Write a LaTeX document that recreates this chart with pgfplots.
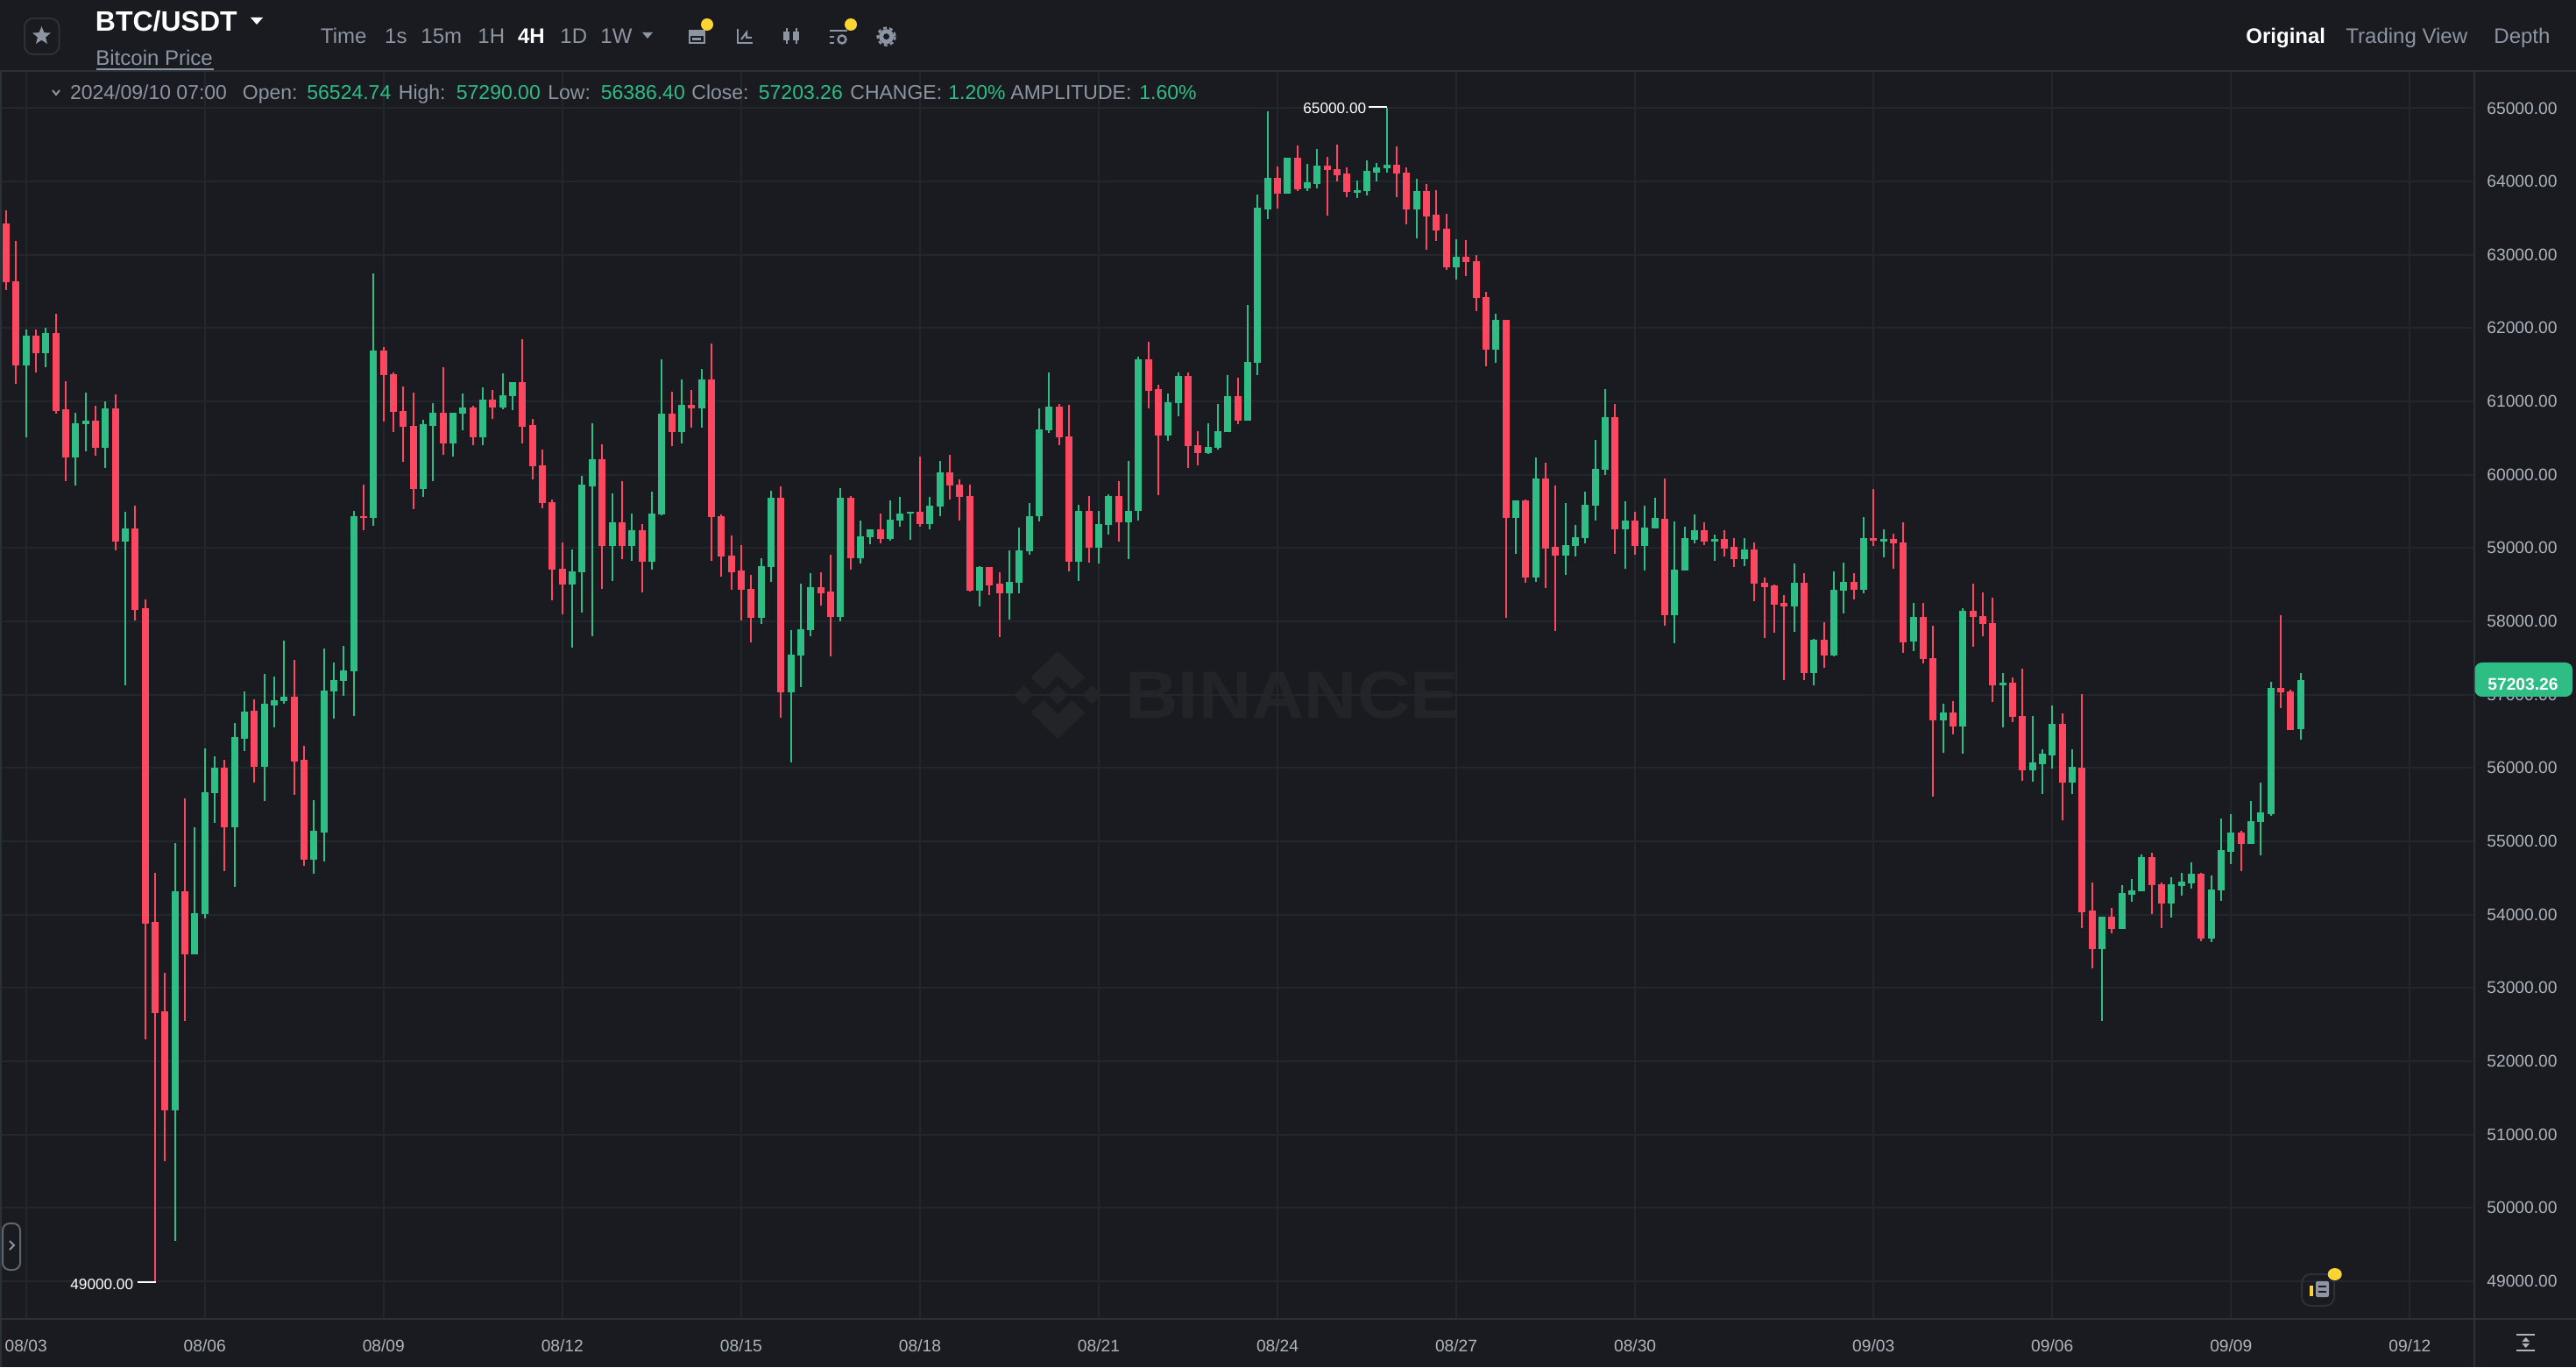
\documentclass[border=0pt]{standalone}
\usepackage{fontspec}
\setmainfont{Liberation Sans}
\usepackage{pgfplots}
\usepackage{pgfplotstable}
\pgfplotsset{compat=1.18}
\usetikzlibrary{shapes.geometric}
\definecolor{bg}{HTML}{191B20}
\definecolor{gridc}{HTML}{22272B}
\definecolor{linec}{HTML}{2B3139}
\definecolor{gup}{HTML}{2EBD85}
\definecolor{rdn}{HTML}{FB4760}
\definecolor{txtg}{HTML}{8D95A2}
\definecolor{tick}{HTML}{AEB4BE}
\definecolor{wm}{HTML}{222428}
\definecolor{yel}{HTML}{FCD535}
% i high top bottom low : red candles (open = top, close = bottom)
\pgfplotstableread{
i high top bot low
0 63606 63425 62622 62519
1 63182 62643 61493 61234
3 61980 61902 61659 61400
5 62197 61928 60871 60835
6 61281 60887 60239 59918
9 60939 60742 60369 60260
11 61099 60908 59084 58965
13 59582 59266 58152 58007
14 58302 58173 53874 52295
15 54572 53896 52657 49000
16 53209 52679 51326 50634
18 55589 54318 53458 52554
22 56109 56001 55195 54594
25 56935 56779 56011 55795
29 57479 56976 56090 55638
30 56303 56106 54746 54670
36 59861 59437 59405 59240
38 61742 61690 61353 60721
39 61389 61369 60856 60586
40 61208 60871 60649 60172
41 61115 60664 59799 59535
44 61464 60842 60431 60266
47 60943 60920 60509 60399
49 61153 61021 60916 60760
52 61853 61263 60655 60426
53 60756 60673 60120 59941
54 60344 60133 59612 59543
55 59667 59626 58702 58286
56 59081 58720 58496 58098
60 60412 60211 59031 58446
62 59918 59351 59031 58848
64 59324 59241 58816 58391
67 61131 60829 60577 60385
69 61158 60957 60906 60637
71 61794 61300 59424 58821
72 59456 59438 58880 58610
73 59177 58894 58670 58432
74 59040 58688 58432 58006
75 58629 58446 58052 57714
78 59841 59690 57037 56680
82 58674 58464 58386 58217
83 58908 58404 58061 57526
85 59708 59690 58862 58702
88 59470 59251 59127 59059
92 60252 59493 59324 59292
95 60275 60028 59854 59667
96 59937 59868 59699 59379
97 59864 59708 58418 58409
99 58743 58738 58487 58359
100 58665 58510 58386 57787
106 60970 60925 60509 60403
107 60948 60522 58816 58679
109 59713 59511 59004 58802
112 59918 59713 59351 59086
115 61812 61574 61144 60902
116 61222 61163 60536 59726
119 61391 61341 60394 60097
120 60591 60408 60298 60129
124 61327 61071 60733 60691
128 64203 64047 63830 63628
130 64493 64327 63897 63871
133 64332 64218 64151 63529
134 64503 64166 64089 64001
135 64192 64109 63861 63783
140 64482 64228 64109 63788
141 64197 64125 63617 63420
143 63959 63866 63524 63063
144 63876 63545 63332 63192
145 63555 63353 62825 62799
147 63198 62975 62897 62706
148 63001 62908 62410 62234
149 62493 62426 61701 61473
151 62115 62110 59411 58044
153 59660 59644 58598 58525
155 60162 59950 58997 58448
156 59851 59012 58893 57867
162 60965 60789 59256 58924
164 59489 59370 59033 58909
167 59944 59402 58084 57944
171 59346 59239 59087 59040
173 59239 59127 58996 58888
174 59135 59012 58844 58741
176 59076 58976 58518 58275
177 58593 58530 58470 57777
178 58498 58486 58231 57840
179 58354 58247 58207 57199
181 58653 58522 57291 57203
183 57984 57749 57538 57362
186 58661 58542 58430 58295
188 59809 59139 59099 59024
190 59191 59119 59064 58721
191 59346 59080 57717 57570
193 58249 58054 57481 57421
194 57942 57497 56649 55610
196 56908 56756 56569 56458
198 58516 58141 58054 57648
199 58392 58066 57966 57795
200 58328 57978 57131 56896
202 57234 57166 56693 56629
203 57349 56709 55972 55821
207 56744 56597 55801 55284
209 57004 56008 54036 53813
210 54435 54052 53526 53271
212 54092 53973 53809 53745
216 54849 54789 54399 54004
217 54435 54411 54152 53817
221 54566 54562 53678 53642
225 55144 55124 54965 54594
229 58080 57096 57032 56813
230 57064 57048 56514 56514
}\redT
% i high top bottom low : green candles (open = bottom, close = top)
\pgfplotstableread{
i high top bot low
2 61975 61902 61493 60509
4 62001 61928 61659 61462
7 60845 60706 60239 59851
8 61115 60742 60690 60322
10 60996 60908 60369 60089
12 59499 59266 59084 57131
17 54973 54318 51326 49546
19 55195 54021 53458 53458
20 56266 55671 54004 53950
21 56158 56001 55654 55249
23 56608 56417 55195 54372
24 57043 56774 56401 56235
26 57287 56872 56011 55552
27 57251 56929 56857 56551
28 57737 56976 56909 56872
31 55557 55140 54746 54551
32 57634 57059 55119 54724
33 57432 57199 57049 56676
34 57670 57328 57188 56986
35 59504 59437 57323 56707
37 62741 61690 59411 59302
42 60747 60685 59799 59701
43 60980 60842 60669 59909
45 60847 60847 60431 60243
46 61112 60920 60838 60600
48 61190 61021 60509 60399
50 61378 61089 60916 60893
51 61263 61263 61071 60884
57 58976 58679 58496 57645
58 59983 59859 58665 58125
59 60705 60211 59841 57801
61 59740 59351 59031 58551
63 59470 59241 59031 58825
65 59772 59475 58816 58706
66 61574 60829 59456 59447
68 61295 60957 60577 60426
70 61442 61300 60906 60641
76 58866 58748 58052 57965
77 59777 59690 58738 58533
79 57878 57545 57037 56076
80 58514 57892 57531 57101
81 58661 58464 57878 57801
84 59813 59690 58061 57997
86 59379 59159 58862 58784
87 59255 59251 59145 59054
89 59649 59392 59127 59100
90 59694 59475 59379 59292
91 59498 59493 59466 59113
93 59694 59575 59324 59260
94 60193 60028 59562 59434
98 58757 58743 58418 58208
101 58967 58542 58386 58029
102 59283 58972 58528 58382
103 59612 59438 58953 58912
104 60906 60623 59429 59360
105 61396 60925 60605 60573
108 59594 59511 58816 58551
110 59511 59324 59004 58784
111 59736 59713 59310 59187
113 60193 59511 59351 58853
114 61615 61574 59502 59374
117 61108 60984 60536 60463
118 61396 61341 60975 60801
121 60701 60376 60294 60284
122 60961 60595 60367 60339
123 61359 61071 60582 60577
125 62315 61538 60733 60733
126 63819 63638 61530 61354
127 64954 64047 63622 63488
129 64327 64327 63830 63830
131 64244 63985 63902 63871
132 64446 64218 63969 63907
136 64011 63881 63845 63773
137 64291 64140 63866 63804
138 64254 64192 64125 64001
139 65000 64228 64177 64125
142 64037 63866 63617 63224
146 63213 62975 62825 62659
150 62193 62110 61701 61524
152 59649 59644 59411 58924
154 60235 59950 58598 58541
157 59608 59043 58893 58629
158 59318 59152 59028 58883
159 59763 59587 59137 59059
160 60473 60079 59577 59380
161 61167 60789 60064 59991
163 59639 59370 59256 58722
165 59582 59282 59033 58691
166 59680 59411 59271 59271
168 59362 58705 58084 57705
169 59295 59131 58689 58689
170 59458 59239 59115 59068
172 59183 59123 59087 58829
175 59139 58976 58844 58757
180 58785 58522 58207 57860
182 57765 57749 57291 57123
184 58677 58426 57538 57522
185 58805 58542 58414 58103
187 59422 59139 58430 58386
189 59255 59119 59083 58872
192 58249 58054 57720 57592
195 56880 56756 56649 56207
197 58177 58141 56569 56191
201 57290 57166 57131 56549
204 56709 56072 55972 55809
205 56259 56191 56056 55650
206 56856 56597 56175 55992
208 56259 56012 55801 55642
211 53973 53973 53526 52554
213 54403 54291 53809 53809
214 54491 54335 54275 54172
215 54825 54789 54319 54319
218 54506 54411 54152 53965
219 54570 54447 54395 54263
220 54718 54562 54427 54359
222 54530 54343 53678 53630
223 55315 54877 54327 54184
224 55367 55124 54861 54690
226 55554 55275 54965 54961
227 55797 55395 55259 54805
228 57176 57096 55375 55351
231 57290 57203 56525 56386
}\greenT
\newcommand{\T}[5][11.5]{\node[anchor=base west,inner sep=0pt,text=#4,font=\fontsize{#1}{#1}\selectfont] at (#2,#3) {#5};}
\newcommand{\TB}[5][11.5]{\node[anchor=base west,inner sep=0pt,text=#4,font=\fontsize{#1}{#1}\selectfont\bfseries] at (#2,#3) {#5};}
\begin{document}
\begin{tikzpicture}
\path[use as bounding box,fill=bg] (0,0) rectangle (1470pt,780pt);
% watermark, under the candles
\begin{scope}[x=0.5pt,y=-0.5pt,shift={(0,780pt)}]
\begin{scope}[shift={(1207.3,793)}]
\fill[wm] (0,-11)--(11,0)--(0,11)--(-11,0)--cycle;
\fill[wm] (-39,-11)--(-28,0)--(-39,11)--(-50,0)--cycle;
\fill[wm] (39,-11)--(50,0)--(39,11)--(28,0)--cycle;
\fill[wm] (0,-50)--(31,-20)--(16,-6)--(0,-22)--(-16,-6)--(-31,-20)--cycle;
\fill[wm] (0,50)--(31,20)--(16,6)--(0,22)--(-16,6)--(-31,20)--cycle;
\end{scope}
\node[inner sep=0pt,text=wm,font=\fontsize{38}{38}\selectfont\bfseries,xscale=1.1] at (1475,793) {BINANCE};
\end{scope}
\begin{axis}[
  at={(0pt,27.5pt)},anchor=south west,
  scale only axis,width=1412pt,height=712pt,
  xmin=-0.6175,xmax=248.5,ymin=48484,ymax=65507,
  axis line style={draw=none},
  grid=major,grid style={color=gridc,line width=1pt},
  major tick length=0pt,
  xtick={2,20,38,56,74,92,110,128,146,164,188,206,224,242},
  xticklabels={08/03,08/06,08/09,08/12,08/15,08/18,08/21,08/24,08/27,08/30,09/03,09/06,09/09,09/12},
  ytick={49000,50000,...,65000},
  yticklabel pos=right,
  scaled y ticks=false,
  xticklabel style={text=tick,font=\fontsize{9.6}{10}\selectfont,inner sep=0pt,anchor=north,yshift=-11.5pt},
  yticklabel style={text=tick,font=\fontsize{9.6}{10}\selectfont,inner sep=0pt,anchor=west,xshift=7pt,
    /pgf/number format/.cd,fixed,fixed zerofill,precision=2,1000 sep={},assume math mode=true},
  error bars/error mark=none,
]
\addplot[draw=none,mark=none,forget plot,error bars/.cd,y dir=plus,y explicit,error bar style={draw=rdn,line width=1pt}]
  table[x=i,y=low,y error expr=\thisrow{high}-\thisrow{low}] {\redT};
\addplot[draw=none,mark=none,forget plot,error bars/.cd,y dir=plus,y explicit,error bar style={draw=rdn,line width=4pt}]
  table[x=i,y=bot,y error expr=\thisrow{top}-\thisrow{bot}] {\redT};
\addplot[draw=none,mark=none,forget plot,error bars/.cd,y dir=plus,y explicit,error bar style={draw=gup,line width=1pt}]
  table[x=i,y=low,y error expr=\thisrow{high}-\thisrow{low}] {\greenT};
\addplot[draw=none,mark=none,forget plot,error bars/.cd,y dir=plus,y explicit,error bar style={draw=gup,line width=4pt}]
  table[x=i,y=bot,y error expr=\thisrow{top}-\thisrow{bot}] {\greenT};
\end{axis}
\begin{scope}[x=0.5pt,y=-0.5pt,shift={(0,780pt)}]
% frame lines
\draw[linec,line width=1pt] (0,81)--(2940,81);
\draw[linec,line width=1pt] (0,1505)--(2940,1505);
\draw[linec,line width=1pt] (2824,81)--(2824,1560);
\draw[linec,line width=1pt] (1,81)--(1,1560);
% header
\draw[linec,line width=1pt,rounded corners=5pt] (28,21) rectangle (67.5,62);
\node[star,star points=5,star point ratio=2.3,fill=txtg,inner sep=0pt,minimum size=11pt] at (47.5,41) {};
\TB[16]{108.5}{36}{white}{BTC/USDT}
\fill[white] (286,20)--(300,20)--(293,28)--cycle;
\T[12]{109}{75}{txtg}{Bitcoin Price}
\draw[txtg,line width=1pt] (110,79)--(244,79);
\T[12]{365.6}{50}{txtg}{Time}
\T[12]{438.8}{50}{txtg}{1s}
\T[12]{480}{50}{txtg}{15m}
\T[12]{545}{50}{txtg}{1H}
\TB[12]{590.6}{50}{white}{4H}
\T[12]{639}{50}{txtg}{1D}
\T[12]{685}{50}{txtg}{1W}
\fill[txtg] (733,37)--(745,37)--(739,44)--cycle;
% icons
\draw[txtg,line width=1.2pt] (787,36) rectangle (804,49);
\fill[txtg] (786,34) rectangle (805,41);
\fill[txtg] (790,43) rectangle (800,46);
\draw[txtg,line width=1pt] (842,33)--(842,49)--(859,49);
\draw[txtg,line width=1pt] (846,45)--(852,37)--(852,43)--(858,43);
\fill[txtg] (894,36) rectangle (901,46);
\fill[txtg] (905,36) rectangle (912,46);
\draw[txtg,line width=1pt] (897.5,32)--(897.5,50) (908.5,32)--(908.5,50);
\draw[txtg,line width=1pt] (947,35)--(967,35) (947,42)--(952,42) (947,49)--(952,49);
\draw[txtg,line width=1.2pt] (961,45) circle (4.5);
\fill[txtg] (1011.6,41.7) circle (8.5);
\fill[bg] (1011.6,41.7) circle (3.5);
\draw[txtg,line width=1.2pt,dash pattern=on 2pt off 1.6pt] (1011.6,41.7) circle (10);
\fill[yel] (807,28) circle (7);
\fill[yel] (971,28) circle (7);
\TB[12]{2563}{50}{white}{Original}
\T[12]{2677}{50}{txtg}{Trading View}
\T[12]{2846}{50}{txtg}{Depth}
% info row
\draw[txtg,line width=1pt] (60,103)--(64,108)--(68,103);
\T{79.6}{114}{txtg}{2024/09/10 07:00}
\T{276.5}{114}{txtg}{Open:}
\T{350}{114}{gup}{56524.74}
\T{454.5}{114}{txtg}{High:}
\T{520.5}{114}{gup}{57290.00}
\T{625}{114}{txtg}{Low:}
\T{685.5}{114}{gup}{56386.40}
\T{789}{114}{txtg}{Close:}
\T{865.5}{114}{gup}{57203.26}
\T{970}{114}{txtg}{CHANGE:}
\T{1082}{114}{gup}{1.20\%}
\T{1153}{114}{txtg}{AMPLITUDE:}
\T{1300}{114}{gup}{1.60\%}
% extreme labels
\T[8.6]{1487}{129.5}{white}{65000.00}
\draw[white,line width=1pt] (1562,121.7)--(1582.5,121.7);
\T[8.6]{80}{1471.5}{white}{49000.00}
\draw[white,line width=1pt] (157,1463.3)--(177.7,1463.3);
% last-price tag
\fill[gup,rounded corners=4pt] (2824.5,756) rectangle (2936,795);
\TB[9.6]{2839}{788}{white}{57203.26}
% left handle
\draw[linec!60!tick,line width=1pt,rounded corners=4pt] (3,1396) rectangle (23,1449);
\draw[txtg,line width=1pt] (11,1416)--(16,1421)--(11,1426);
% news icon
\draw[linec,line width=1pt,rounded corners=5pt] (2627,1454) rectangle (2664,1490);
\fill[txtg,rounded corners=1pt] (2643,1462) rectangle (2658,1480);
\draw[bg,line width=1pt] (2646,1468)--(2655,1468) (2646,1474)--(2655,1474);
\fill[yel] (2636,1467) rectangle (2640,1479);
\fill[yel] (2664.7,1454) ellipse (8 and 7);
% expand icon
\draw[tick,line width=1pt] (2872,1523)--(2893,1523) (2872,1541)--(2893,1541);
\fill[tick] (2882.7,1526)--(2887,1531)--(2878.4,1531)--cycle;
\fill[tick] (2882.7,1538)--(2887,1533)--(2878.4,1533)--cycle;
\end{scope}
\end{tikzpicture}
\end{document}
